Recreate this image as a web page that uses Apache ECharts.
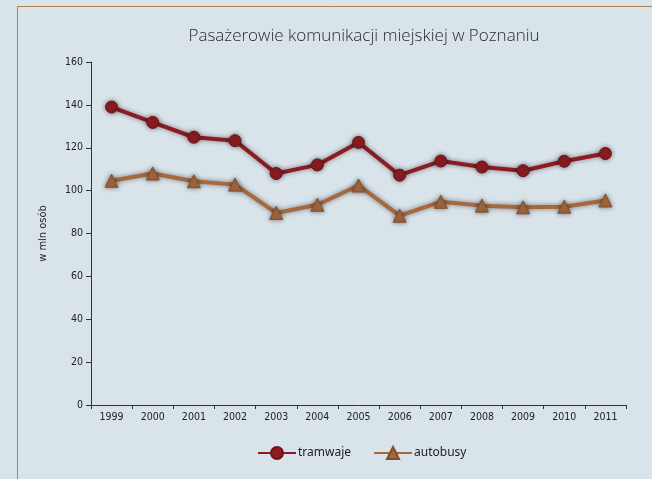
<!DOCTYPE html>
<html><head><meta charset="utf-8">
<script src="https://cdn.jsdelivr.net/npm/echarts@6/dist/echarts.min.js"></script>
<style>html,body{margin:0;padding:0;background:#d9e3ea}#c{width:652px;height:479px}</style>
</head><body><div id="c"></div>
<script>
const categories = ['1999','2000','2001','2002','2003','2004','2005','2006','2007','2008','2009','2010','2011'];
const tramwaje = [139, 131.8, 124.9, 123.3, 108, 112, 122.5, 107.2, 113.8, 111, 109.3, 113.7, 117.3];
const autobusy = [104.6, 108, 104.4, 102.8, 89.6, 93.4, 102.4, 88.3, 94.8, 93, 92.2, 92.5, 95.4];
const yTicks = {min: 0, max: 160, interval: 20};

const chart = echarts.init(document.getElementById('c'));
const narrow = "'Liberation Sans Narrow', 'DejaVu Sans Condensed', sans-serif";
chart.setOption({
  backgroundColor: '#d9e3ea',
  animation: false,
  graphic: [
    {type: 'line', shape: {x1: 17.5, y1: 6.5, x2: 652, y2: 6.5}, style: {stroke: '#b4804f', lineWidth: 1}},
    {type: 'line', shape: {x1: 17.5, y1: 6.5, x2: 17.5, y2: 479}, style: {stroke: '#b4804f', lineWidth: 1}}
  ],
  title: {
    text: 'Pasażerowie komunikacji miejskiej w Poznaniu',
    left: 359, top: 23, textAlign: 'center',
    textStyle: {fontFamily: "'Open Sans', sans-serif", fontWeight: 300, fontSize: 17, color: '#2a2a2a'}
  },
  legend: {
    left: 252, top: 441, itemWidth: 38, itemHeight: 15, itemGap: 22,
    textStyle: {fontFamily: "'Noto Sans', sans-serif", fontSize: 12, color: '#222', padding: [0, 0, 0, -3]},
    data: ['tramwaje', 'autobusy']
  },
  grid: {left: 91, right: 26, top: 62, bottom: 74},
  xAxis: {
    type: 'category', data: categories, boundaryGap: true,
    axisLine: {lineStyle: {color: '#333', width: 1}},
    axisTick: {show: true, length: 4, lineStyle: {color: '#333'}},
    axisLabel: {fontFamily: narrow, fontSize: 10.5, color: '#222', margin: 7}
  },
  yAxis: {
    type: 'value', min: yTicks.min, max: yTicks.max, interval: yTicks.interval,
    name: 'w mln osób', nameLocation: 'middle', nameGap: 42, nameRotate: 90,
    nameTextStyle: {fontFamily: narrow, fontSize: 11, color: '#222'},
    axisLine: {show: true, lineStyle: {color: '#333', width: 1}},
    axisTick: {show: true, length: 5, lineStyle: {color: '#333'}},
    splitLine: {show: false},
    axisLabel: {fontFamily: narrow, fontSize: 10.5, color: '#222', margin: 8}
  },
  series: [
    {
      name: 'tramwaje', type: 'line', data: tramwaje,
      symbol: 'circle', symbolSize: 12,
      itemStyle: {color: '#8c1c22', borderColor: '#6e1418', borderWidth: 1, shadowColor: 'rgba(0,0,0,0.45)', shadowBlur: 5},
      lineStyle: {color: '#8c1c22', width: 4, shadowColor: 'rgba(0,0,0,0.45)', shadowBlur: 5}
    },
    {
      name: 'autobusy', type: 'line', data: autobusy,
      symbol: 'triangle', symbolSize: 13,
      itemStyle: {color: '#a6693f', borderColor: '#7f4e2c', borderWidth: 1, shadowColor: 'rgba(0,0,0,0.45)', shadowBlur: 5},
      lineStyle: {color: '#a6693f', width: 4, shadowColor: 'rgba(0,0,0,0.45)', shadowBlur: 5}
    }
  ]
});
</script></body></html>
